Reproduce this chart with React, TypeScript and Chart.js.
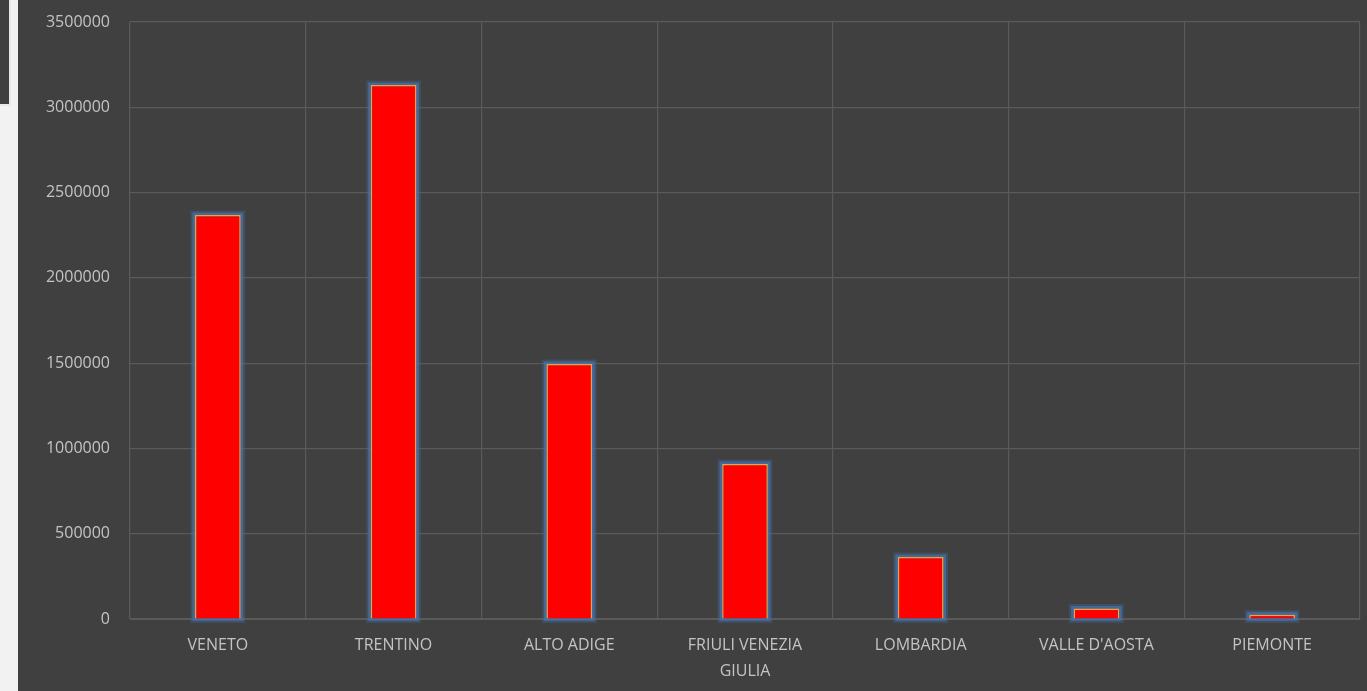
import React, { useEffect, useRef } from "react";
import { Chart, registerables } from "chart.js";

Chart.register(...registerables);

const categories: (string | string[])[] = [
  "VENETO",
  "TRENTINO",
  "ALTO ADIGE",
  ["FRIULI VENEZIA", "GIULIA"],
  "LOMBARDIA",
  "VALLE D'AOSTA",
  "PIEMONTE",
];
const values: number[] = [2368000, 3130000, 1495000, 908000, 363000, 62000, 25000];
const yMax = 3500000;
const yStep = 500000;

const glowPlugin = {
  id: "barGlow",
  beforeDatasetsDraw(chart: any) {
    const ctx = chart.ctx;
    const meta = chart.getDatasetMeta(0);
    ctx.save();
    meta.data.forEach((bar: any) => {
      const p = bar.getProps(["x", "y", "base", "width"], true);
      const left = p.x - p.width / 2;
      const top = Math.min(p.y, p.base);
      const h = Math.abs(p.base - p.y);
      ctx.strokeStyle = "rgba(70,110,160,0.35)";
      ctx.lineWidth = 7;
      ctx.strokeRect(left - 1, top - 1, p.width + 2, h + 2);
      ctx.strokeStyle = "rgba(70,115,170,0.75)";
      ctx.lineWidth = 3;
      ctx.strokeRect(left - 1, top - 1, p.width + 2, h + 2);
    });
    ctx.restore();
  },
};

export default function App() {
  const canvasRef = useRef<HTMLCanvasElement | null>(null);

  useEffect(() => {
    if (!canvasRef.current) return;
    const chart = new Chart(canvasRef.current, {
      type: "bar",
      data: {
        labels: categories,
        datasets: [
          {
            data: values,
            backgroundColor: "#ff0000",
            borderColor: "#f2a040",
            borderWidth: 1.5,
            barPercentage: 0.26,
            categoryPercentage: 1,
          },
        ],
      },
      plugins: [glowPlugin],
      options: {
        animation: false,
        responsive: false,
        maintainAspectRatio: false,
        layout: { padding: { top: 22, right: 7, left: 0, bottom: 0 } },
        plugins: {
          legend: { display: false },
          tooltip: { enabled: false },
          title: { display: false },
        },
        scales: {
          x: {
            grid: {
              color: "#5a5a5a",
              lineWidth: 1.2,
              offset: true,
              drawTicks: false,
            },
            border: { display: true, color: "#5a5a5a" },
            ticks: {
              color: "#c4c4c4",
              padding: 14,
              font: { family: "'Open Sans', sans-serif", size: 16, lineHeight: 1.6 },
              maxRotation: 0,
              autoSkip: false,
            },
            afterFit(scale: any) {
              scale.height = 72;
              scale.paddingLeft = 0;
              scale.paddingRight = 0;
            },
          },
          y: {
            min: 0,
            max: yMax,
            ticks: {
              stepSize: yStep,
              color: "#c4c4c4",
              padding: 20,
              font: { family: "'Open Sans', sans-serif", size: 16 },
              callback: (v: any) => String(v),
            },
            grid: { color: "#5a5a5a", lineWidth: 1.2, drawTicks: false },
            border: { display: false },
            afterFit(scale: any) {
              scale.width = 112;
              scale.paddingTop = 0;
              scale.paddingBottom = 0;
            },
          },
        },
      },
    });
    return () => chart.destroy();
  }, []);

  return (
    <div
      style={{
        position: "fixed",
        left: 0,
        top: 0,
        width: 1367,
        height: 691,
        background: "#404040",
        overflow: "hidden",
      }}
    >
      <div
        style={{
          position: "absolute",
          left: 0,
          top: 0,
          width: 18,
          height: 691,
          background: "#f2f2f2",
        }}
      />
      <div
        style={{
          position: "absolute",
          left: 0,
          top: 0,
          width: 9,
          height: 104,
          background: "#404040",
          borderRight: "2px solid #e8e8e8",
          borderBottom: "2px solid #e8e8e8",
        }}
      />
      <canvas
        ref={canvasRef}
        width={1349}
        height={691}
        style={{ position: "absolute", left: 18, top: 0, width: 1349, height: 691 }}
      />
    </div>
  );
}
